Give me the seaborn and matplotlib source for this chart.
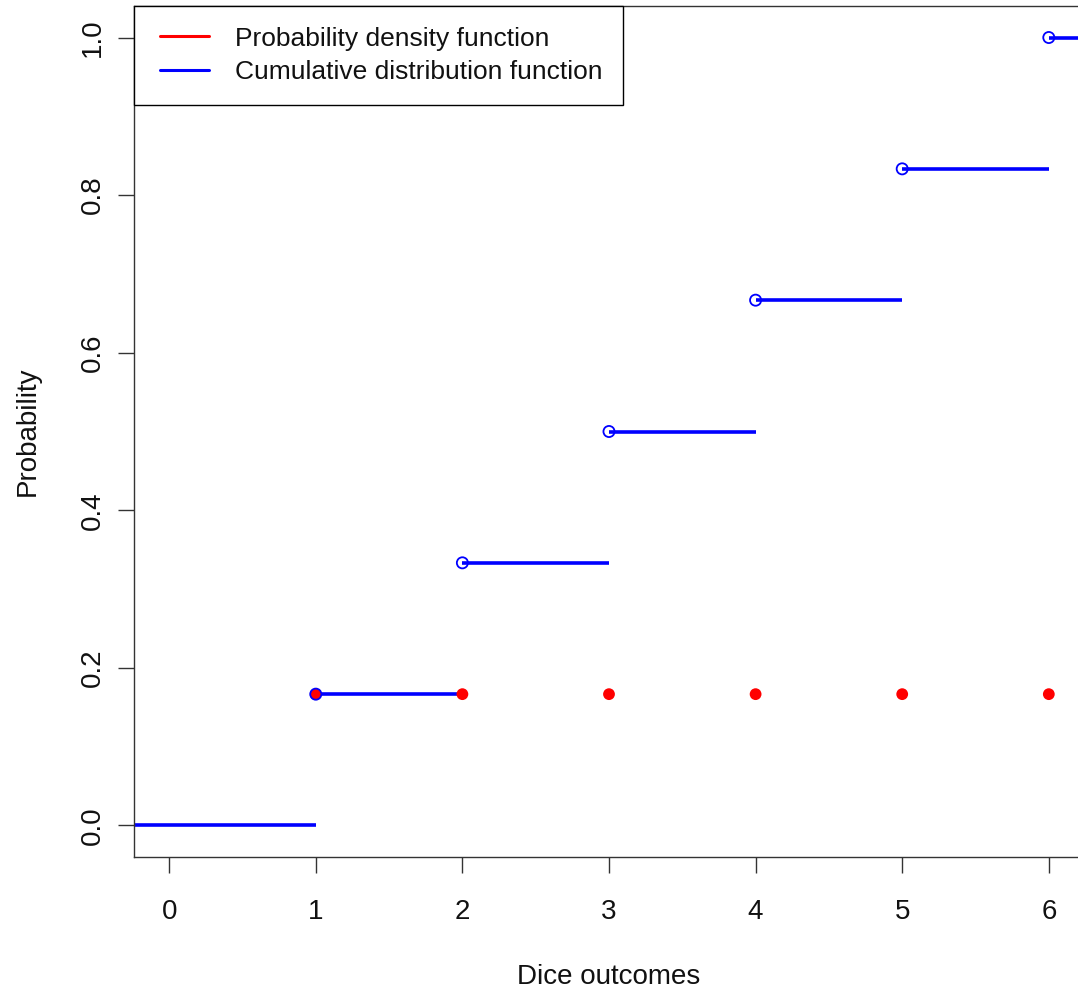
import numpy as np
import pandas as pd
import matplotlib
matplotlib.use("Agg")
import matplotlib.pyplot as plt
import seaborn as sns
from matplotlib.lines import Line2D
from matplotlib.legend_handler import HandlerLine2D

outcomes = [1, 2, 3, 4, 5, 6]
pdf_vals = [1/6, 1/6, 1/6, 1/6, 1/6, 1/6]
cdf_vals = [1/6, 2/6, 3/6, 4/6, 5/6, 6/6]
step_start = [-1, 1, 2, 3, 4, 5, 6]
step_end = [1, 2, 3, 4, 5, 6, 7]
step_level = [0, 1/6, 2/6, 3/6, 4/6, 5/6, 1]
xticks = [0, 1, 2, 3, 4, 5, 6]
yticks = [0.0, 0.2, 0.4, 0.6, 0.8, 1.0]

sns.set_style("ticks")
plt.rcParams['font.family'] = ['Liberation Sans', 'DejaVu Sans']
plt.rcParams['text.color'] = '#111111'
plt.rcParams['axes.labelcolor'] = '#111111'
plt.rcParams['xtick.labelcolor'] = '#111111'
plt.rcParams['ytick.labelcolor'] = '#111111'

FS = 20
LFS = 19
fig = plt.figure(figsize=(10.78, 9.91), dpi=100)
ax = fig.add_axes([134/1078, (991-857)/991, (1084-134)/1078, (857-6)/991])

ax.hlines(step_level, step_start, step_end, colors='blue', linewidth=2.6, zorder=2)
sns.scatterplot(x=outcomes, y=pdf_vals, ax=ax, color='red', s=72, edgecolor='none', zorder=3)
sns.scatterplot(x=outcomes, y=cdf_vals, ax=ax, marker='o', s=64, facecolors='none',
                edgecolor='blue', linewidth=1.3, zorder=4)

ax.set_xlim(-0.24, 6.24)
ax.set_ylim(-0.04, 1.04)
ax.set_xticks(xticks)
ax.set_xticklabels([str(t) for t in xticks])
ax.set_yticks(yticks)
ax.set_yticklabels([f"{t:.1f}" for t in yticks], rotation=90, va='center')
ax.tick_params(axis='both', length=11.5, width=1.0, color='#333333', labelsize=FS)
ax.tick_params(axis='x', pad=19)
ax.tick_params(axis='y', pad=8.6)
for s in ax.spines.values():
    s.set_color('#333333')
    s.set_linewidth(1.0)
ax.set_xlabel("Dice outcomes", fontsize=FS, labelpad=28)
ax.set_ylabel("Probability", fontsize=FS, labelpad=28)

handles = [Line2D([0], [0], color='red', lw=2.2), Line2D([0], [0], color='blue', lw=2.2)]
fs_px = LFS * 100 / 72
xpad = 0.2
leg = ax.legend(handles, ["Probability density function", "Cumulative distribution function"],
                loc='upper left', fontsize=LFS, frameon=True, fancybox=False, framealpha=1,
                edgecolor='black', borderaxespad=0, handlelength=49 / fs_px + xpad,
                handletextpad=26 / fs_px, borderpad=0.78, labelspacing=0.36,
                handler_map={Line2D: HandlerLine2D(xpad=xpad)})
leg.get_frame().set_linewidth(1.0)
leg.set_zorder(10)

fig.savefig("out.png", dpi=100)
